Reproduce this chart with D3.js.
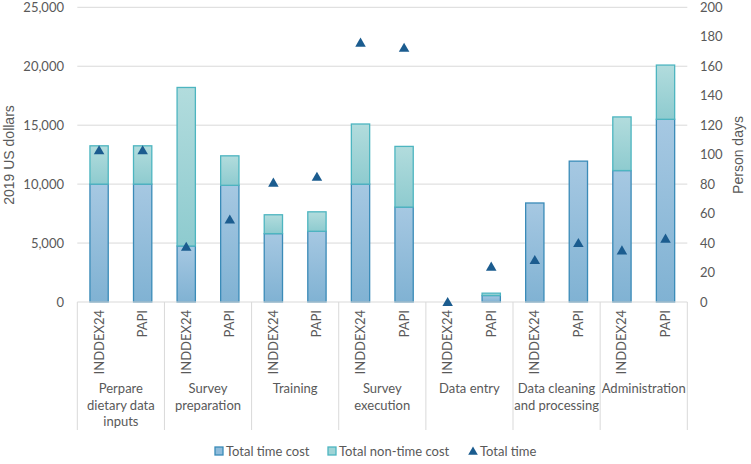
<!DOCTYPE html>
<html><head><meta charset="utf-8">
<script src="https://cdn.jsdelivr.net/npm/d3@7"></script>
<style>body{margin:0;background:#fff}svg{display:block}</style>
</head><body><svg id="c" width="751" height="464"></svg>
<script>
const categories = ["Perpare dietary data inputs","Survey preparation","Training","Survey execution","Data entry","Data cleaning and processing","Administration"];
const categoryLines = [["Perpare","dietary data","inputs"],["Survey","preparation"],["Training"],["Survey","execution"],["Data entry"],["Data cleaning","and processing"],["Administration"]];
const methods = ["INDDEX24","PAPI"];
const timeCost =    [10000,10000, 4750,9900, 5800,6000, 10000,8050, 0,550, 8400,11950, 11150,15500];
const nonTimeCost = [3250,3250, 13450,2500, 1600,1650, 5100,5150, 0,200, 0,0, 4550,4600];
const totalTime =   [103,103, 37.5,56, 81,85, 176,172.5, 0,24, 28.5,40, 35,43];
const leftTicks = [0,5000,10000,15000,20000,25000];
const rightTicks = [0,20,40,60,80,100,120,140,160,180,200];

const svg = d3.select("#c");
const L = 77.3, R = 687.3, T = 7.3, B = 302;
const font = "Lato, 'Open Sans', sans-serif";
const keys = [];
categories.forEach((c,i)=>methods.forEach(m=>keys.push(i+"|"+m)));
const x = d3.scaleBand().domain(keys).range([L,R]).paddingInner(0.58).paddingOuter(0.29);
const xc = d3.scaleBand().domain(categories).range([L,R]);
const y = d3.scaleLinear().domain([0,25000]).range([B,T]);
const y2 = d3.scaleLinear().domain([0,200]).range([B,T]);

const defs = svg.append("defs");
function grad(id,c1,c2){const g=defs.append("linearGradient").attr("id",id).attr("x1",0).attr("y1",0).attr("x2",0).attr("y2",1);
 g.append("stop").attr("offset","0%").attr("stop-color",c1);g.append("stop").attr("offset","100%").attr("stop-color",c2);}
grad("gTime","#a6c8e2","#80b2d3");
grad("gNon","#b2dcdd","#8ecbcf");

// gridlines
svg.append("g").selectAll("line").data(leftTicks.slice(1)).join("line")
 .attr("x1",L).attr("x2",R).attr("y1",d=>y(d)).attr("y2",d=>y(d))
 .attr("stroke","#d9d9d9").attr("stroke-width",1);

// bars
const rows = keys.map((k,i)=>({k,t:timeCost[i],n:nonTimeCost[i],tt:totalTime[i]}));
const bw = x.bandwidth();
svg.append("g").selectAll("rect").data(rows.filter(d=>d.t>0)).join("rect")
 .attr("x",d=>x(d.k)).attr("width",bw).attr("y",d=>y(d.t)).attr("height",d=>y(0)-y(d.t))
 .attr("fill","url(#gTime)").attr("stroke","#3a8bb8").attr("stroke-width",1.3);
svg.append("g").selectAll("rect").data(rows.filter(d=>d.n>0)).join("rect")
 .attr("x",d=>x(d.k)).attr("width",bw).attr("y",d=>y(d.t+d.n)).attr("height",d=>y(d.t)-y(d.t+d.n))
 .attr("fill","url(#gNon)").attr("stroke","#4db5c0").attr("stroke-width",1.3);

// axis base line and category separators
svg.append("line").attr("x1",L).attr("x2",R).attr("y1",B).attr("y2",B).attr("stroke","#d9d9d9");
const seps = categories.map(c=>xc(c)).concat([R]);
svg.append("g").selectAll("line").data(seps).join("line")
 .attr("x1",d=>d).attr("x2",d=>d).attr("y1",B).attr("y2",430).attr("stroke","#d9d9d9");

// triangles
const tri = d3.symbol().type(d3.symbolTriangle).size(48);
svg.append("g").selectAll("path").data(rows).join("path")
 .attr("d",tri).attr("transform",d=>`translate(${x(d.k)+bw/2},${y2(d.tt)+1})`).attr("fill","#1b5c8f");

// left axis labels
svg.append("g").selectAll("text").data(leftTicks).join("text")
 .attr("x",64).attr("y",d=>y(d)).attr("dy","0.35em").attr("text-anchor","end")
 .attr("font-family",font).attr("font-size",13).attr("fill","#595959").text(d=>d3.format(",")(d));
// right axis labels
svg.append("g").selectAll("text").data(rightTicks).join("text")
 .attr("x",700).attr("y",d=>y2(d)).attr("dy","0.35em").attr("text-anchor","start")
 .attr("font-family",font).attr("font-size",13).attr("fill","#595959").text(d=>d);

// axis titles
svg.append("text").attr("transform","translate(14,155) rotate(-90)").attr("text-anchor","middle")
 .attr("font-family","'Liberation Sans', Arial, sans-serif").attr("font-size",14).attr("fill","#595959").text("2019 US dollars");
svg.append("text").attr("transform","translate(743,155) rotate(-90)").attr("text-anchor","middle")
 .attr("font-family","'Liberation Sans', Arial, sans-serif").attr("font-size",14).attr("fill","#595959").text("Person days");

// method labels
svg.append("g").selectAll("text").data(rows).join("text")
 .attr("transform",d=>`translate(${x(d.k)+bw/2+4.5},310) rotate(-90)`).attr("text-anchor","end")
 .attr("font-family",font).attr("font-size",13).attr("fill","#595959").text(d=>d.k.split("|")[1]);

// category labels
const cg = svg.append("g").selectAll("text").data(categories).join("text")
 .attr("x",c=>xc(c)+xc.bandwidth()/2).attr("y",393).attr("text-anchor","middle")
 .attr("font-family",font).attr("font-size",13).attr("fill","#595959");
cg.selectAll("tspan").data((c,i)=>categoryLines[i]).join("tspan")
 .attr("x",function(){return d3.select(this.parentNode).attr("x");}).attr("dy",(d,i)=>i?16.7:0).text(d=>d);

// legend
const lg = svg.append("g").attr("font-family",font).attr("font-size",13).attr("fill","#595959");
const legendItems = [{label:"Total time cost",type:"time",x:215},{label:"Total non-time cost",type:"non",x:328},{label:"Total time",type:"tri",x:469}];
legendItems.forEach(it=>{
 if(it.type==="tri"){
  lg.append("path").attr("d",d3.symbol().type(d3.symbolTriangle).size(40)).attr("transform",`translate(${it.x+4},${452})`).attr("fill","#1b5c8f");
 } else {
  lg.append("rect").attr("x",it.x).attr("y",447).attr("width",8).attr("height",8)
   .attr("fill",it.type==="time"?"#8fbcdb":"#9fd4d6").attr("stroke",it.type==="time"?"#3a8bb8":"#4db5c0").attr("stroke-width",1.3);
 }
 lg.append("text").attr("x",it.x+11).attr("y",451).attr("dy","0.35em").text(it.label);
});
</script></body></html>
